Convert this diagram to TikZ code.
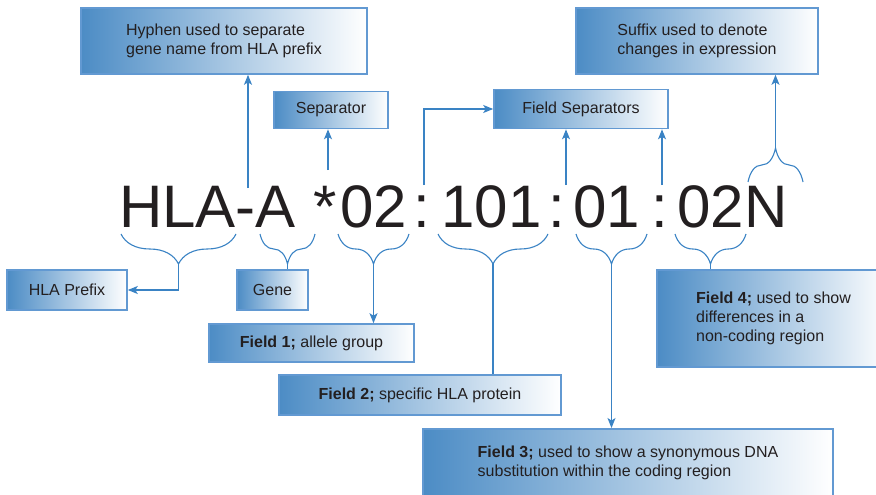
\documentclass[tikz,border=0pt]{standalone}
\usepackage{fontspec}
\setmainfont{Liberation Sans}
\usepackage{xcolor}
\usepackage{tikz}
\usetikzlibrary{shapes,arrows.meta,positioning,decorations.pathreplacing}

\definecolor{hlablue}{RGB}{76,140,197}
\definecolor{hlaedge}{RGB}{98,153,210}
\definecolor{hlaline}{RGB}{58,131,196}
\definecolor{hlatext}{RGB}{35,31,32}

\begin{document}
\begin{tikzpicture}[
    x=1pt, y=-1pt,
    box/.style={rectangle, draw=hlaedge, line width=1.6pt, left color=hlablue, right color=white, text=hlatext, align=left, inner sep=0pt, font=\fontsize{16}{19}\selectfont},
    code/.style={anchor=base, inner sep=0pt, text=hlatext, font=\fontsize{60}{60}\selectfont},
    lowbrace/.style={decorate, decoration={brace, mirror, amplitude=30pt}, hlaline, line width=1.1pt},
    highbrace/.style={decorate, decoration={brace, amplitude=34pt}, hlaline, line width=1.1pt},
    link/.style={hlaline, line width=1.1pt},
    arrow/.style={-{Stealth[length=10pt, width=8pt, inset=2.5pt]}, hlaline, line width=1.1pt}
]
    \useasboundingbox (0,0) rectangle (876,495);
    \clip (0,0) rectangle (876,495);

    % the allele name
    \node[code] (hla) at (207.5,227) {HLA-A};
    \node[code] (star) at (325,227) {*};
    \node[code] (grpone) at (374,227) {02};
    \node[code] (colA) at (422,227) {:};
    \node[code] (grptwo) at (491.5,227) {101};
    \node[code] (colB) at (557,227) {:};
    \node[code] (grpthree) at (607,227) {01};
    \node[code] (colC) at (660,227) {:};
    \node[code] (grpfour) at (732.5,227) {02N};

    % boxes above
    \node[box, minimum width=286pt, minimum height=66pt] (hyphenbox) at (224,41) {Hyphen used to separate\\gene name from HLA prefix};
    \node[box, minimum width=114pt, minimum height=37pt] (sepbox) at (331,110) {Separator};
    \node[box, minimum width=174pt, minimum height=39pt] (fieldsep) at (581,109) {Field Separators};
    \node[box, minimum width=242pt, minimum height=66pt] (suffixbox) at (697,41) {Suffix used to denote\\changes in expression};

    % boxes below
    \node[box, minimum width=120pt, minimum height=40pt] (prefixbox) at (67,290) {HLA Prefix};
    \node[box, minimum width=71pt, minimum height=40pt] (genebox) at (272.5,290) {Gene};
    \node[box, minimum width=205pt, minimum height=38pt] (field1) at (311.5,343) {\textbf{Field 1;} allele group};
    \node[box, minimum width=282pt, minimum height=40pt] (field2) at (420,395) {\textbf{Field 2;} specific HLA protein};
    \node[box, minimum width=410pt, anchor=north, inner ysep=17pt, text depth=70pt] (field3) at (628,428) {\textbf{Field 3;} used to show a synonymous DNA\\substitution within the coding region};
    \node[box, minimum width=233pt, minimum height=97pt] (field4) at (773.5,318.5) {\textbf{Field 4;} used to show\\differences in a\\non-coding region};

    % braces
    \draw[lowbrace] (121,234) -- (236,234);
    \draw[lowbrace] (260,234) -- (315,234);
    \draw[lowbrace] (338,234) -- (409,234);
    \draw[lowbrace] (438,234) -- (548,234);
    \draw[lowbrace] (576,234) -- (647,234);
    \draw[lowbrace] (675,234) -- (746,234);
    \draw[highbrace] (748,182) -- (803,182);

    \coordinate (prefixtip) at (178.5,264);
    \coordinate (genetip) at (287.5,264);
    \coordinate (onetip) at (373.5,264);
    \coordinate (twotip) at (493,264);
    \coordinate (threetip) at (611.5,264);
    \coordinate (fourtip) at (710.5,264);
    \coordinate (suffixtip) at (775.5,148);
    \coordinate (hyphenfoot) at (248,188);
    \coordinate (starfoot) at (328,170);
    \coordinate (colAfoot) at (424,185);
    \coordinate (colBfoot) at (566,185);
    \coordinate (colCfoot) at (662,185);

    % connectors
    \draw[arrow] (prefixtip) |- (prefixbox);
    \draw[link] (genetip) -- (genetip |- genebox.north);
    \draw[arrow] (onetip) -- (onetip |- field1.north);
    \draw[link] (twotip) -- (twotip |- field2.north);
    \draw[arrow] (threetip) -- (threetip |- field3.north);
    \draw[link] (fourtip) -- (fourtip |- field4.north);
    \draw[arrow] (suffixtip) -- (suffixtip |- suffixbox.south);
    \draw[arrow] (hyphenfoot) -- (hyphenfoot |- hyphenbox.south);
    \draw[arrow] (starfoot) -- (starfoot |- sepbox.south);
    \draw[arrow] (colAfoot) |- (fieldsep.west);
    \draw[arrow] (colBfoot) -- (colBfoot |- fieldsep.south);
    \draw[arrow] (colCfoot) -- (colCfoot |- fieldsep.south);
\end{tikzpicture}
\end{document}
